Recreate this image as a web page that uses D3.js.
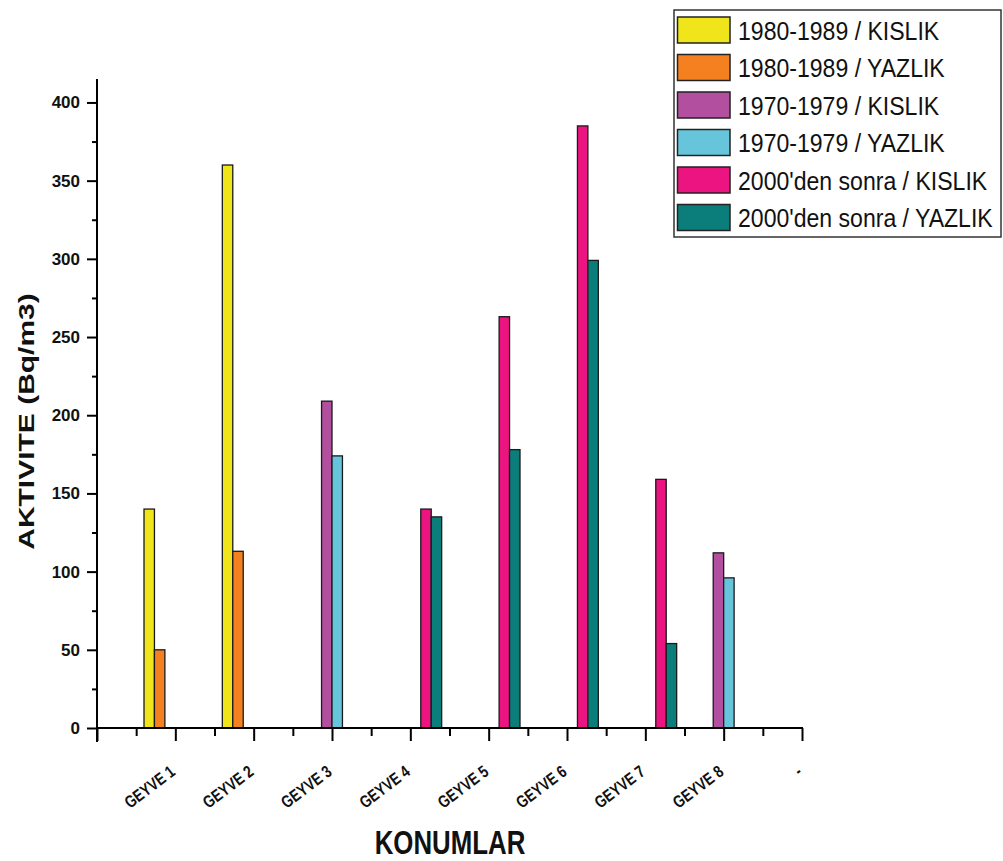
<!DOCTYPE html>
<html>
<head>
<meta charset="utf-8">
<script src="https://cdn.jsdelivr.net/npm/d3@7"></script>
<style>
  body { margin: 0; background: #fff; }
  svg { display: block; font-family: "Liberation Sans", Arial, sans-serif; }
</style>
</head>
<body>
<svg id="chart" width="1003" height="861"></svg>
<script>
// ---- data ----
const categories = ["", "GEYVE 1", "GEYVE 2", "GEYVE 3", "GEYVE 4", "GEYVE 5", "GEYVE 6", "GEYVE 7", "GEYVE 8", "-"];
const seriesNames = ["1980-1989 / KISLIK", "1980-1989 / YAZLIK", "1970-1979 / KISLIK", "1970-1979 / YAZLIK", "2000'den sonra / KISLIK", "2000'den sonra / YAZLIK"];
const seriesColors = ["#f0e41a", "#f4801f", "#b24f9e", "#66c5da", "#ec1480", "#0b7e7b"];
// values for GEYVE 1..8 (null = no bar)
const s1980K = [140, 360, null, null, null, null, null, null];
const s1980Y = [50, 113, null, null, null, null, null, null];
const s1970K = [null, null, 209, null, null, null, null, 112];
const s1970Y = [null, null, 174, null, null, null, null, 96];
const s2000K = [null, null, null, 140, 263, 385, 159, null];
const s2000Y = [null, null, null, 135, 178, 299, 54, null];
const allSeries = [s1980K, s1980Y, s1970K, s1970Y, s2000K, s2000Y];
const yMajorTicks = [0, 50, 100, 150, 200, 250, 300, 350, 400];
const yMinorTicks = [25, 75, 125, 175, 225, 275, 325, 375];

// ---- scales ----
const svg = d3.select("#chart");
const x = d3.scaleLinear().domain([0, 9]).range([97, 802]);
const y = d3.scaleLinear().domain([0, 415]).range([728, 79]);
const groupWidth = 0.8;
const nS = allSeries.length;
const barW = groupWidth / nS;

// ---- bars ----
const barData = [];
allSeries.forEach((vals, si) => {
  vals.forEach((v, ci) => {
    if (v != null) barData.push({ cat: ci + 1, si, v });
  });
});
svg.append("g").selectAll("rect").data(barData).join("rect")
  .attr("x", d => x(d.cat - groupWidth / 2 + d.si * barW))
  .attr("width", d => x(barW) - x(0))
  .attr("y", d => y(d.v))
  .attr("height", d => y(0) - y(d.v))
  .attr("fill", d => seriesColors[d.si])
  .attr("stroke", "#1a1a1a")
  .attr("stroke-width", 1.3);

// ---- y axis ----
const yAxisG = svg.append("g").attr("transform", `translate(${x(0)},0)`);
yAxisG.call(d3.axisLeft(y).tickValues(yMajorTicks).tickSize(10).tickSizeOuter(0).tickPadding(7));
yAxisG.append("g").call(d3.axisLeft(y).tickValues(yMinorTicks).tickSize(5).tickFormat(""));
yAxisG.selectAll(".domain").remove();
yAxisG.selectAll("line").attr("stroke", "#000").attr("stroke-width", 2);
yAxisG.selectAll("text").attr("font-size", 17).attr("font-weight", "bold").attr("fill", "#111")
  .attr("font-family", "'Liberation Sans', Arial, sans-serif");
svg.append("line").attr("x1", x(0)).attr("x2", x(0)).attr("y1", y(0) + 14).attr("y2", y(415))
  .attr("stroke", "#000").attr("stroke-width", 2);

// ---- x axis ----
const xAxisG = svg.append("g").attr("transform", `translate(0,${y(0)})`);
xAxisG.call(d3.axisBottom(x).tickValues(d3.range(0, 10)).tickSize(13).tickSizeOuter(0).tickFormat(""));
xAxisG.append("g").call(d3.axisBottom(x).tickValues(d3.range(0.5, 9, 1)).tickSize(8).tickFormat(""));
xAxisG.selectAll(".domain").remove();
xAxisG.selectAll("line").attr("stroke", "#000").attr("stroke-width", 2);
svg.append("line").attr("x1", x(0) - 1).attr("x2", x(9) + 1).attr("y1", y(0)).attr("y2", y(0))
  .attr("stroke", "#000").attr("stroke-width", 2);

svg.append("g").selectAll("text").data(categories.map((c, i) => ({ c, i })).filter(d => d.c !== ""))
  .join("text")
  .attr("transform", d => `translate(${x(d.i) + 1},774) rotate(-37) scale(0.8,1)`)
  .attr("text-anchor", "end")
  .attr("font-size", 17)
  .attr("font-weight", "bold")
  .attr("fill", "#111")
  .text(d => d.c);

// ---- axis titles ----
svg.append("text")
  .attr("transform", "translate(450,854) scale(0.76,1)")
  .attr("text-anchor", "middle")
  .attr("font-size", 34).attr("font-weight", "bold").attr("fill", "#111")
  .text("KONUMLAR");
svg.append("text")
  .attr("transform", "translate(33.5,421.5) scale(0.75,1) rotate(-90)")
  .attr("text-anchor", "middle")
  .attr("font-size", 30).attr("font-weight", "bold").attr("fill", "#111")
  .text("AKTIVITE (Bq/m3)");

// ---- legend ----
const lg = svg.append("g");
lg.append("rect").attr("x", 674).attr("y", 10).attr("width", 327).attr("height", 227)
  .attr("fill", "#fff").attr("stroke", "#333").attr("stroke-width", 1.5);
const rows = lg.selectAll("g.row").data(seriesNames).join("g").attr("class", "row")
  .attr("transform", (d, i) => `translate(0,${17 + i * 37.5})`);
rows.append("rect").attr("x", 677.5).attr("y", 0).attr("width", 52.5).attr("height", 26)
  .attr("fill", (d, i) => seriesColors[i]).attr("stroke", "#222").attr("stroke-width", 1.5);
rows.append("text")
  .attr("transform", "translate(738,22.5) scale(0.887,1)")
  .attr("font-size", 26).attr("fill", "#111")
  .text(d => d);
</script>
</body>
</html>
